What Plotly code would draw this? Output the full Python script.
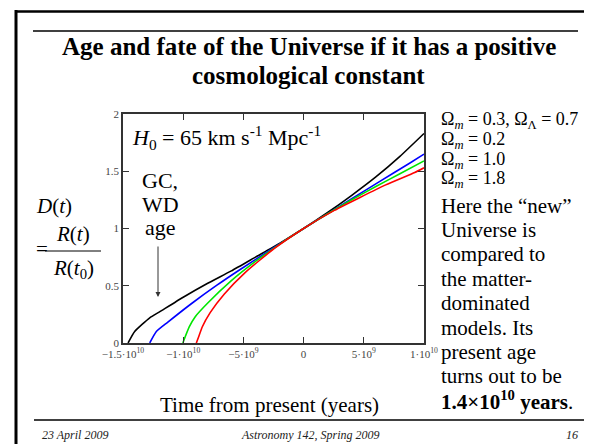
import plotly.graph_objects as go

# ---- data ----
t_black = [-1.458e10, -1.403e10, -1.278e10, -1.2e10, -1.0e10, -8e9, -6e9, -4e9, -2e9, 0, 2e9, 4e9, 6e9, 8e9, 1e10]
d_black = [0, 0.10, 0.22, 0.27, 0.40, 0.52, 0.63, 0.75, 0.87, 1.0, 1.14, 1.29, 1.45, 1.63, 1.83]

t_blue = [-1.278e10, -1.223e10, -1.13e10, -9.3e9, -7.2e9, -5.3e9, -2.8e9, 0, 2e9, 4e9, 6.3e9, 8.8e9, 1e10]
d_blue = [0, 0.10, 0.18, 0.345, 0.505, 0.64, 0.81, 1.0, 1.13, 1.26, 1.41, 1.57, 1.65]

t_green = [-1.003e10, -9.5e9, -9.0e9, -8e9, -6e9, -4e9, -2e9, 0, 2e9, 4e9, 6e9, 8e9, 1e10]
d_green = [0, 0.14, 0.23, 0.345, 0.544, 0.712, 0.862, 1.0, 1.129, 1.251, 1.367, 1.478, 1.59]

t_red = [-8.91e9, -8.73e9, -8.42e9, -7.76e9, -6.6e9, -4.86e9, -2.45e9, 0, 2.55e9, 6.82e9, 9.23e9, 1e10]
d_red = [0, 0.05, 0.14, 0.265, 0.426, 0.615, 0.824, 1.0, 1.158, 1.381, 1.489, 1.53]

x_tickvals = [-1.5e10, -1e10, -5e9, 0, 5e9, 1e10]
x_ticktext = ["\u22121.5\u00b710<sup>10</sup>", "\u22121\u00b710<sup>10</sup>", "\u22125\u00b710<sup>9</sup>",
              "0", "5\u00b710<sup>9</sup>", "1\u00b710<sup>10</sup>"]
y_tickvals = [0, 0.5, 1, 1.5, 2]
y_ticktext = ["0", "0.5", "1", "1.5", "2"]

legend_lines = ["\u03a9<sub><i>m</i></sub> = 0.3, \u03a9<sub>\u039b</sub> = 0.7",
                "\u03a9<sub><i>m</i></sub> = 0.2",
                "\u03a9<sub><i>m</i></sub> = 1.0",
                "\u03a9<sub><i>m</i></sub> = 1.8"]
para_lines = ["Here the \u201cnew\u201d", "Universe is", "compared to", "the matter-",
              "dominated", "models. Its", "present age", "turns out to be",
              "<b>1.4\u00d710<sup>10</sup> years</b>."]

# ---- layout geometry (pixels) ----
W, H = 592, 444
L, R, T, B = 115, 416, 106, 335
SERIF = "Liberation Serif"


def px(x):
    return (x - L) / (R - L)


def py(y):
    return (B - y) / (B - T)


fig = go.Figure()
for t, d, c in [(t_black, d_black, "#000000"), (t_blue, d_blue, "#0000ff"),
                (t_green, d_green, "#00e600"), (t_red, d_red, "#ff0000")]:
    fig.add_trace(go.Scatter(x=t, y=d, mode="lines", line=dict(color=c, width=1.6, shape="spline", smoothing=0.5),
                             showlegend=False, hoverinfo="skip"))

axis_common = dict(showgrid=False, zeroline=False, showline=True, linecolor="#333333", linewidth=1.5,
                   mirror="ticks", ticks="inside", ticklen=6, tickwidth=1.2, tickcolor="#333333",
                   tickfont=dict(family=SERIF, size=11, color="#444444"))
fig.update_xaxes(range=[-1.5e10, 1e10], tickmode="array", tickvals=x_tickvals, ticktext=x_ticktext, **axis_common)
fig.update_yaxes(range=[0, 2], tickmode="array", tickvals=y_tickvals, ticktext=y_ticktext, **axis_common)

ann = []


def text(x, y, s, size, xanchor="center", bold=False, italic=False, color="#000000"):
    if bold:
        s = "<b>" + s + "</b>"
    if italic:
        s = "<i>" + s + "</i>"
    ann.append(dict(x=px(x), y=py(y), xref="paper", yref="paper", text=s, showarrow=False,
                    xanchor=xanchor, yanchor="middle", font=dict(family=SERIF, size=size, color=color)))


# title
text(300.5, 38.5, "Age and fate of the Universe if it has a positive", 25, bold=True)
text(300.5, 67.5, "cosmological constant", 25, bold=True)
# H0 label
text(122, 129, "<i>H</i><sub>0</sub> = 65 km s<sup>-1</sup> Mpc<sup>-1</sup>", 22, xanchor="left")
# GC WD age
text(152, 172.5, "GC,", 22)
text(152, 196.5, "WD", 22)
text(152, 219.5, "age", 22)
# y label
text(26, 198, "<i>D</i>(<i>t</i>)", 21, xanchor="left")
text(26, 241, "=", 21, xanchor="left")
text(65, 226, "<i>R</i>(<i>t</i>)", 21)
text(65, 261, "<i>R</i>(<i>t</i><sub>0</sub>)", 21)
# x title
text(261, 397, "Time from present (years)", 21)
# legend lines
for i, s in enumerate(legend_lines):
    text(431, 112.5 + 19.8 * i, s, 18, xanchor="left")
for i, s in enumerate(para_lines):
    text(431, 197.5 + 24.4 * i, s, 21, xanchor="left")
# footer
text(32, 427, "23 April 2009", 12, xanchor="left", italic=True, color="#222222")
text(302, 427, "Astronomy 142, Spring 2009", 12, italic=True, color="#222222")
text(572, 427, "16", 12, xanchor="right", italic=True, color="#222222")

# arrow
ann.append(dict(x=px(150), y=py(289), xref="paper", yref="paper", text="", showarrow=True,
                ax=0, ay=-52, arrowhead=2, arrowsize=1, arrowwidth=1, arrowcolor="#333333"))

shapes = [
    dict(type="line", xref="paper", yref="paper", x0=px(7), x1=px(592), y0=py(3.5), y1=py(3.5),
         line=dict(color="#000000", width=2.5)),
    dict(type="line", xref="paper", yref="paper", x0=px(8), x1=px(8), y0=py(2), y1=py(444),
         line=dict(color="#000000", width=3)),
    dict(type="line", xref="paper", yref="paper", x0=px(25), x1=px(570), y0=py(23), y1=py(23),
         line=dict(color="#000000", width=1.3)),
    dict(type="line", xref="paper", yref="paper", x0=px(26), x1=px(577), y0=py(412), y1=py(412),
         line=dict(color="#000000", width=1.3)),
    dict(type="line", xref="paper", yref="paper", x0=px(37), x1=px(93), y0=py(243), y1=py(243),
         line=dict(color="#000000", width=1)),
]

fig.update_layout(width=W, height=H, margin=dict(l=L, r=W - R, t=T, b=H - B, pad=0),
                  paper_bgcolor="white", plot_bgcolor="white", annotations=ann, shapes=shapes,
                  showlegend=False)
fig.write_html("out.html", config={"displayModeBar": False})
